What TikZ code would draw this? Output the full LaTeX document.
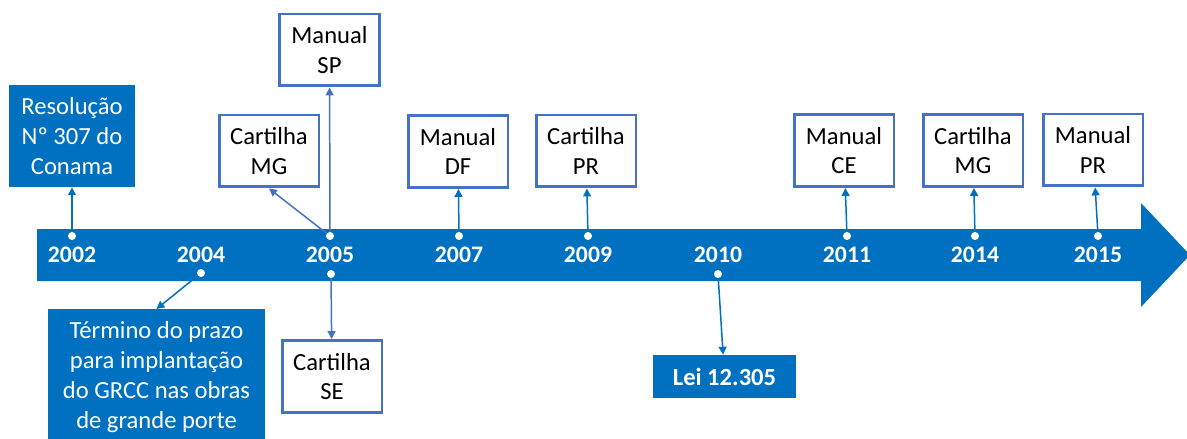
\documentclass[tikz,border=0pt]{standalone}
\usepackage{fontspec}
\setmainfont{Carlito}
\usetikzlibrary{arrows.meta}
\definecolor{band}{HTML}{0070C0}
\definecolor{frame}{HTML}{4472C4}

\tikzstyle{event} = [draw=frame, line width=1.7pt, fill=white, align=center, inner sep=0pt, minimum width=2cm, minimum height=1.44cm, font=\fontsize{14}{17}\selectfont]
\tikzstyle{fact} = [fill=band, text=white, align=center, inner sep=0pt, font=\fontsize{14}{17}\selectfont]
\tikzstyle{year} = [text=white, inner sep=0pt, font=\fontsize{13.5}{16}\selectfont\bfseries]
\tikzstyle{dot} = [circle, fill=white, inner sep=0pt, minimum size=0.16cm]
\tikzstyle{link} = [draw=band, line width=0.85pt, -{Triangle[length=4.5pt,width=4.5pt]}]
\tikzstyle{linkb} = [link, draw=frame, {-Triangle[length=4.5pt,width=4.5pt]}]

\begin{document}
\begin{tikzpicture}[x=0.02cm, y=-0.02cm]
	\useasboundingbox (0,0) rectangle (1187,439);
	\clip (0,0) rectangle (1187,439);

	\fill[band] (37,229) -- (1141,229) -- (1141,203) -- (1190,255) -- (1141,307) -- (1141,281) -- (37,281) -- cycle;

	\node[year] (y02) at (72,255) {2002};
	\node[year] (y04) at (201,255) {2004};
	\node[year] (y05) at (330,255) {2005};
	\node[year] (y07) at (459,255) {2007};
	\node[year] (y09) at (588,255) {2009};
	\node[year] (y10) at (718,255) {2010};
	\node[year] (y11) at (847,255) {2011};
	\node[year] (y14) at (975,255) {2014};
	\node[year] (y15) at (1098,255) {2015};

	\node[dot] (d02) at (72,236) {};
	\node[dot] (d04) at (201,273) {};
	\node[dot] (d05u) at (330,236) {};
	\node[dot] (d05d) at (331,274) {};
	\node[dot] (d07) at (459,236) {};
	\node[dot] (d09) at (588,236) {};
	\node[dot] (d10) at (718,274) {};
	\node[dot] (d11) at (847,236) {};
	\node[dot] (d14) at (975,236) {};
	\node[dot] (d15) at (1098,236) {};

	\node[fact, minimum width=2.52cm, minimum height=2.04cm] (res) at (72,136) {Resolução\\Nº 307 do\\Conama};
	\node[fact, minimum width=4.34cm, minimum height=2.72cm, anchor=north] (term) at (156.5,309) {Término do prazo\\para implantação\\do GRCC nas obras\\de grande porte};
	\node[fact, minimum width=2.86cm, minimum height=0.86cm, font=\fontsize{14}{17}\selectfont\bfseries] (lei) at (724.5,376.5) {Lei 12.305};

	\node[event] (cmg05) at (269,151) {Cartilha\\MG};
	\node[event] (msp) at (329.5,50) {Manual\\SP};
	\node[event] (cse) at (332,376.5) {Cartilha\\SE};
	\node[event] (mdf) at (458,151.5) {Manual\\DF};
	\node[event] (cpr) at (586,151) {Cartilha\\PR};
	\node[event] (mce) at (844,150.5) {Manual\\CE};
	\node[event] (cmg14) at (973,150.5) {Cartilha\\MG};
	\node[event] (mpr) at (1093,150) {Manual\\PR};

	\draw[link] (d02) -- (res);
	\draw[link] (d04) -- (term.north);
	\draw[linkb] (d05u) -- (cmg05.south);
	\draw[linkb] (d05u) -- (msp);
	\draw[linkb] (d05d) -- (cse);
	\draw[link] (d07) -- (mdf);
	\draw[link] (d09) -- (cpr);
	\draw[link] (d10) -- (lei);
	\draw[link] (d11) -- (mce);
	\draw[link] (d14) -- (cmg14);
	\draw[link] (d15) -- (mpr);
\end{tikzpicture}
\end{document}
